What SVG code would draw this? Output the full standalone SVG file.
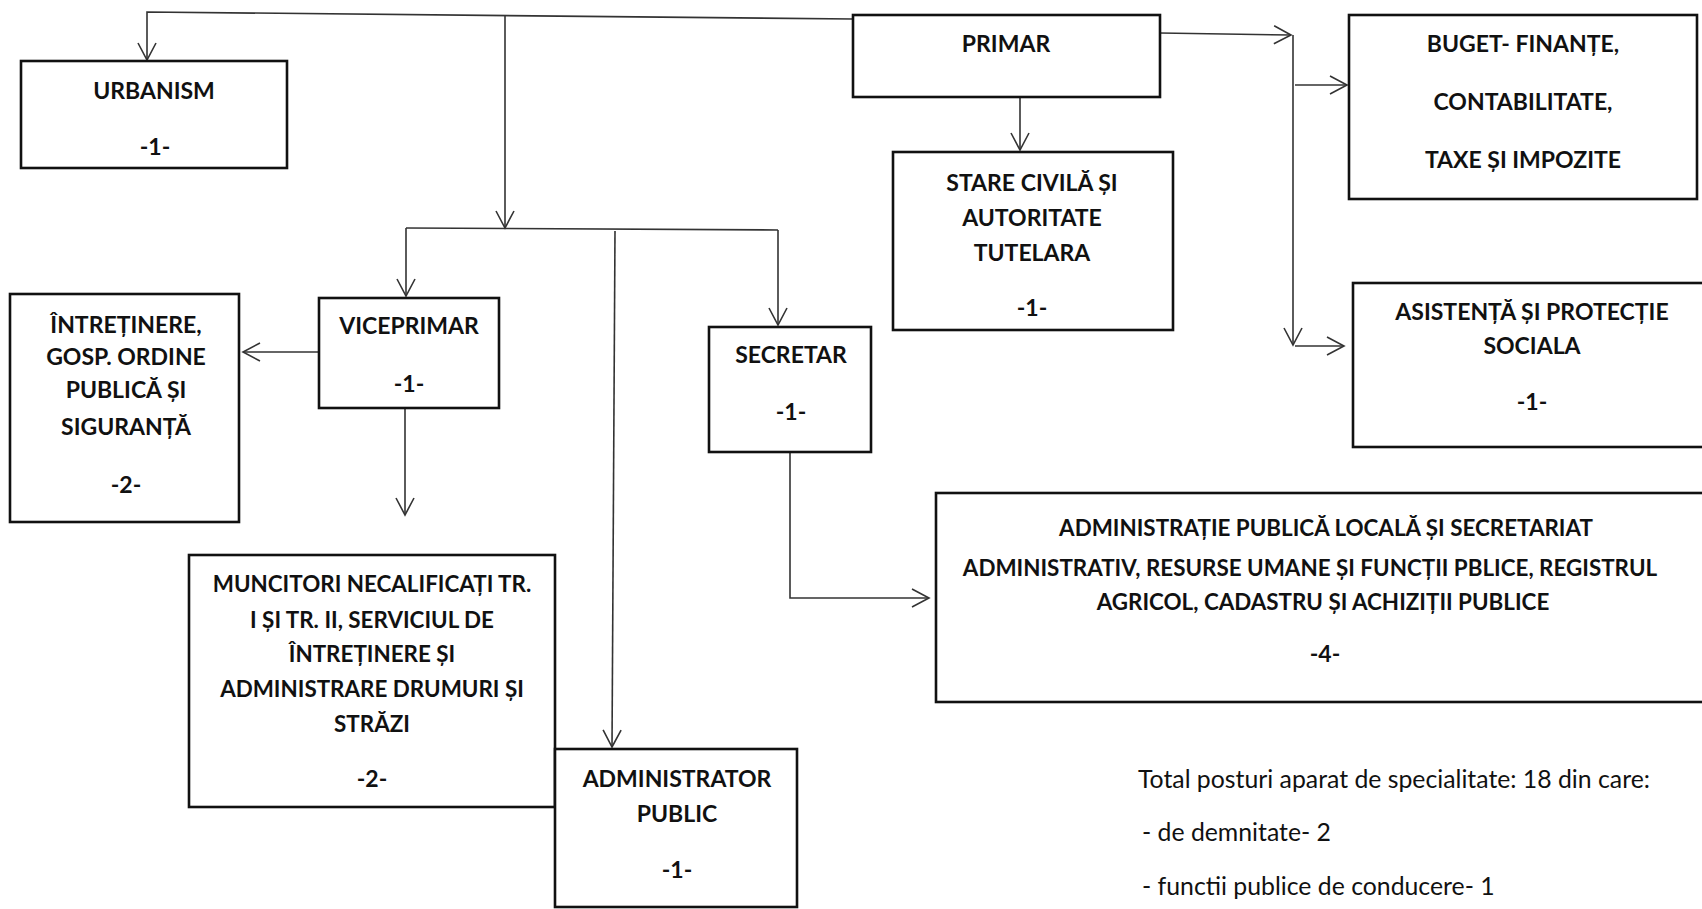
<svg xmlns="http://www.w3.org/2000/svg" width="1702" height="909" viewBox="0 0 1702 909">
<style>
.box{fill:#fff;stroke:#111;stroke-width:2.6}
.t{font-family:Lato,"Open Sans","Liberation Sans",sans-serif;font-weight:700;font-size:23px;fill:#111;text-anchor:middle}
.s{font-size:22.4px}
.n{font-family:Lato,"Open Sans","Liberation Sans",sans-serif;font-weight:400;font-size:24.8px;fill:#111}
.c{fill:none;stroke:#333;stroke-width:1.6}
</style>
<defs>
<marker id="ah" markerUnits="userSpaceOnUse" viewBox="-20 -12 22 24" refX="0" refY="0" markerWidth="22" markerHeight="24" orient="auto">
<path d="M-17,-9 L0,0 L-17,9" fill="none" stroke="#333" stroke-width="1.6"/>
</marker>
</defs>
<rect width="1702" height="909" fill="#fff"/>
<g id="connectors">
<path class="c" d="M853,19 L147,12 L147,60" marker-end="url(#ah)"/>
<path class="c" d="M505,16 L505,228" marker-end="url(#ah)"/>
<path class="c" d="M406,228 L778,230"/>
<path class="c" d="M406,228 L406,296" marker-end="url(#ah)"/>
<path class="c" d="M778,230 L778,325" marker-end="url(#ah)"/>
<path class="c" d="M615,231 L612,747" marker-end="url(#ah)"/>
<path class="c" d="M1020,97 L1020,150" marker-end="url(#ah)"/>
<path class="c" d="M1160,33 L1291,35" marker-end="url(#ah)"/>
<path class="c" d="M1293,35 L1293,345" marker-end="url(#ah)"/>
<path class="c" d="M1295,85 L1347,85" marker-end="url(#ah)"/>
<path class="c" d="M1295,346 L1344,346" marker-end="url(#ah)"/>
<path class="c" d="M319,352 L243,352" marker-end="url(#ah)"/>
<path class="c" d="M405,408 L405,515" marker-end="url(#ah)"/>
<path class="c" d="M790,452 L790,598 L929,598" marker-end="url(#ah)"/>
</g>
<g id="urbanism">
<rect class="box" x="21" y="61" width="266" height="107"/>
<text class="t" x="154" y="99">URBANISM</text>
<text class="t" x="155" y="155">-1-</text>
</g>
<g id="primar">
<rect class="box" x="853" y="15" width="307" height="82"/>
<text class="t" x="1006" y="52">PRIMAR</text>
</g>
<g id="stare-civila">
<rect class="box" x="893" y="152" width="280" height="178"/>
<text class="t" x="1032" y="191">STARE CIVILĂ ȘI</text>
<text class="t" x="1032" y="226">AUTORITATE</text>
<text class="t" x="1032" y="261">TUTELARA</text>
<text class="t" x="1032" y="316">-1-</text>
</g>
<g id="buget">
<rect class="box" x="1349" y="15" width="348" height="184"/>
<text class="t" x="1523" y="52">BUGET- FINANȚE,</text>
<text class="t" x="1523" y="110">CONTABILITATE,</text>
<text class="t" x="1523" y="168">TAXE ȘI IMPOZITE</text>
</g>
<g id="asistenta">
<rect class="box" x="1353" y="283" width="360" height="164"/>
<text class="t" x="1532" y="320">ASISTENȚĂ ȘI PROTECȚIE</text>
<text class="t" x="1532" y="354">SOCIALA</text>
<text class="t" x="1532" y="410">-1-</text>
</g>
<g id="intretinere">
<rect class="box" x="10" y="294" width="229" height="228"/>
<text class="t" x="126" y="333">ÎNTREȚINERE,</text>
<text class="t" x="126" y="365">GOSP. ORDINE</text>
<text class="t" x="126" y="398">PUBLICĂ ȘI</text>
<text class="t" x="126" y="435">SIGURANȚĂ</text>
<text class="t" x="126" y="493">-2-</text>
</g>
<g id="viceprimar">
<rect class="box" x="319" y="298" width="180" height="110"/>
<text class="t" x="409" y="334">VICEPRIMAR</text>
<text class="t" x="409" y="392">-1-</text>
</g>
<g id="secretar">
<rect class="box" x="709" y="327" width="162" height="125"/>
<text class="t" x="791" y="363">SECRETAR</text>
<text class="t" x="791" y="420">-1-</text>
</g>
<g id="muncitori">
<rect class="box" x="189" y="555" width="366" height="252"/>
<text class="t s" x="372" y="592">MUNCITORI NECALIFICAȚI TR.</text>
<text class="t s" x="372" y="628">I ȘI TR. II, SERVICIUL DE</text>
<text class="t s" x="372" y="662">ÎNTREȚINERE ȘI</text>
<text class="t s" x="372" y="697">ADMINISTRARE DRUMURI ȘI</text>
<text class="t s" x="372" y="732">STRĂZI</text>
<text class="t" x="372" y="787">-2-</text>
</g>
<g id="administrator">
<rect class="box" x="555" y="749" width="242" height="158"/>
<text class="t" x="677" y="787">ADMINISTRATOR</text>
<text class="t" x="677" y="822">PUBLIC</text>
<text class="t" x="677" y="878">-1-</text>
</g>
<g id="administratie">
<rect class="box" x="936" y="493" width="780" height="209"/>
<text class="t s" x="1326" y="536">ADMINISTRAȚIE PUBLICĂ LOCALĂ ȘI SECRETARIAT</text>
<text class="t s" x="1310" y="576">ADMINISTRATIV, RESURSE UMANE ȘI FUNCȚII PBLICE, REGISTRUL</text>
<text class="t s" x="1323" y="610">AGRICOL, CADASTRU ȘI ACHIZIȚII PUBLICE</text>
<text class="t" x="1325" y="662">-4-</text>
</g>
<g id="note">
<text class="n" x="1138" y="788">Total posturi aparat de specialitate: 18 din care:</text>
<text class="n" x="1142" y="841">- de demnitate- 2</text>
<text class="n" x="1142" y="895">- functii publice de conducere- 1</text>
</g>
</svg>
